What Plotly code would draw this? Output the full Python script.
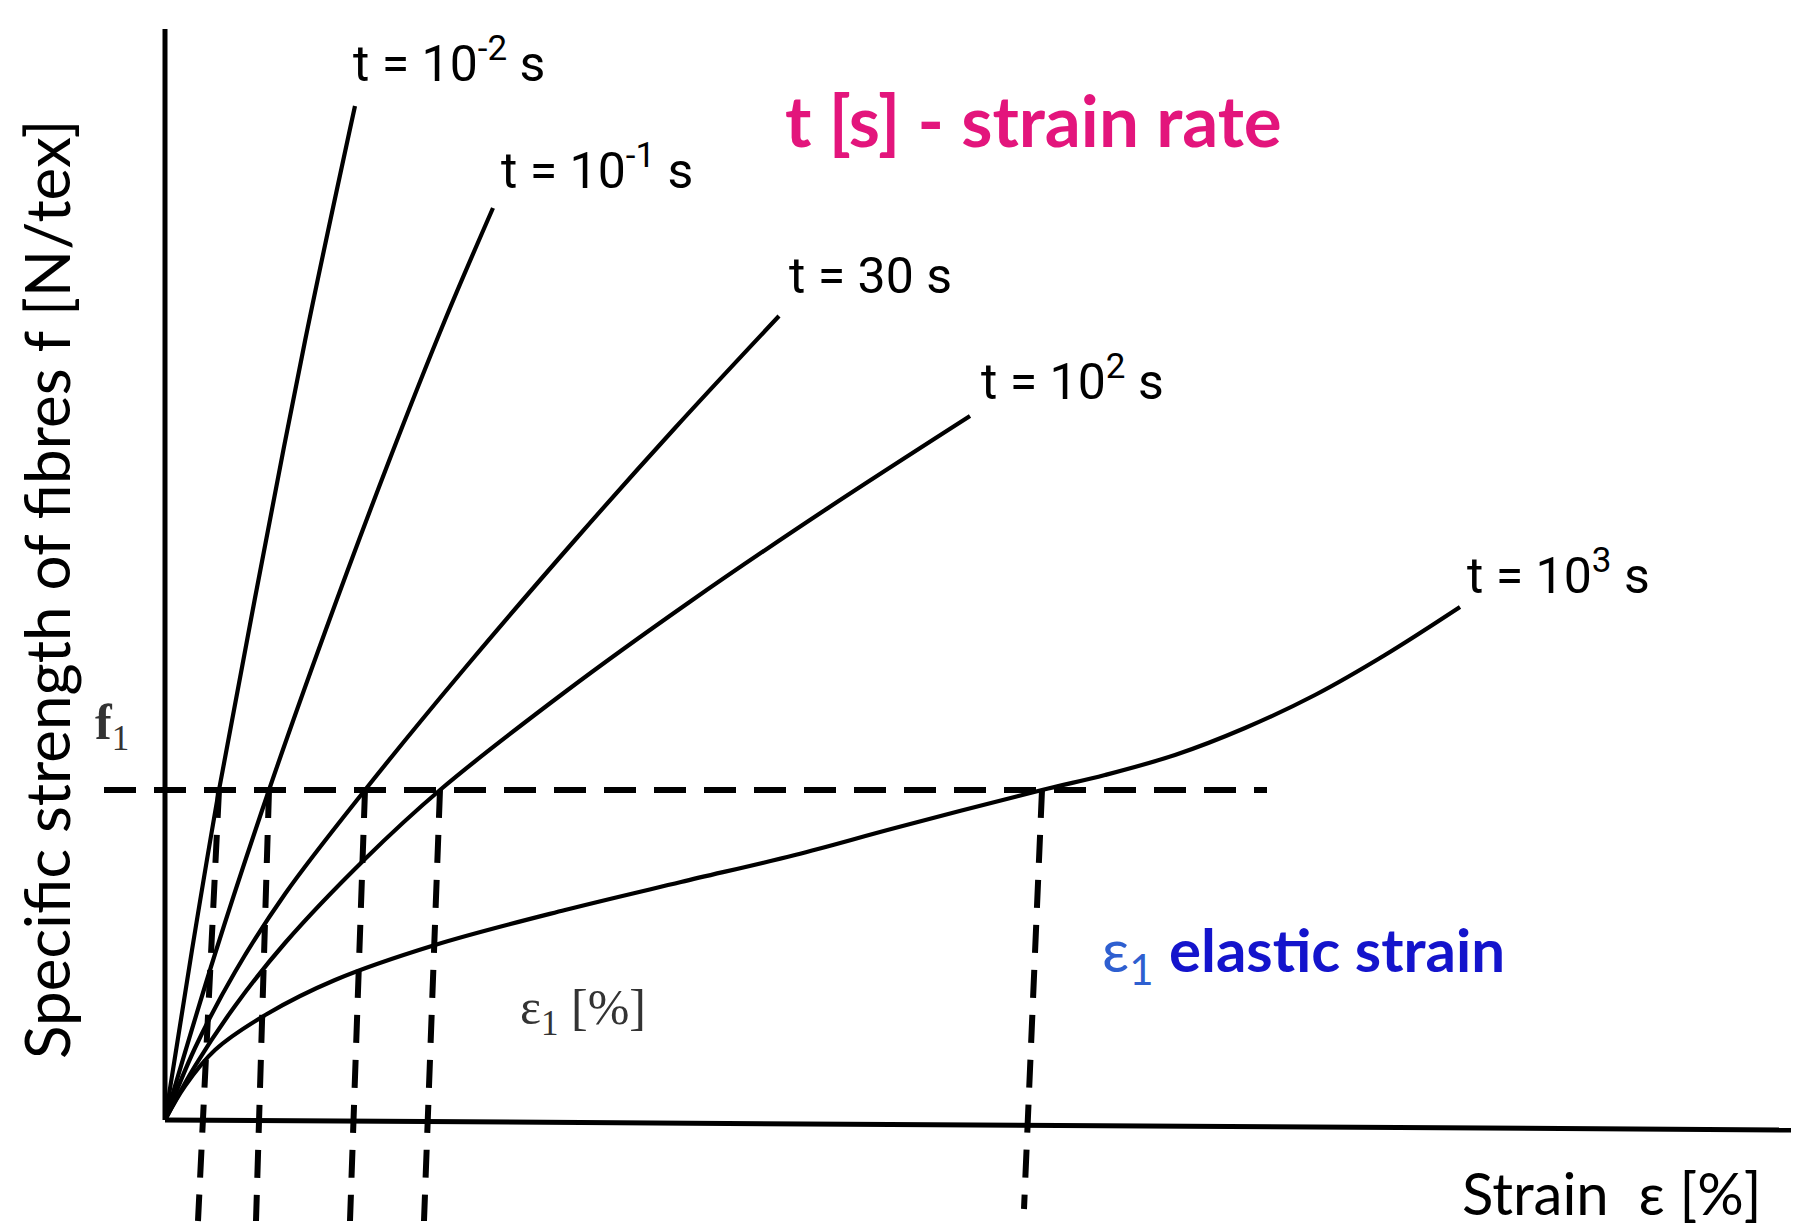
import plotly.graph_objects as go

# ---- data (strain in %, specific strength in arbitrary units) ----
curve_names = ["t = 10<sup>-2</sup> s", "t = 10<sup>-1</sup> s", "t = 30 s",
               "t = 10<sup>2</sup> s", "t = 10<sup>3</sup> s"]

strain_t1 = [0, 0.27, 0.54, 0.90, 1.40, 1.90]
force_t1 = [0, 1.70, 3.30, 5.22, 7.79, 10.14]

strain_t2 = [0, 0.50, 1.04, 1.60, 2.24, 2.80, 3.28]
force_t2 = [0, 1.66, 3.30, 4.88, 6.59, 8.00, 9.12]

strain_t3 = [0, 0.30, 0.70, 1.20, 2.00, 3.00, 4.10, 5.10, 6.14]
force_t3 = [0, 0.72, 1.48, 2.26, 3.30, 4.52, 5.80, 6.92, 8.04]

strain_t4 = [0, 0.30, 0.70, 1.20, 2.00, 2.75, 4.00, 5.26, 6.60, 8.05]
force_t4 = [0, 0.54, 1.14, 1.77, 2.61, 3.30, 4.28, 5.19, 6.10, 7.04]

strain_t5 = [0, 0.20, 0.50, 1.02, 1.70, 2.70, 4.00, 5.16, 6.30, 7.30, 8.77,
             9.40, 10.10, 10.80, 11.50, 12.20, 12.95]
force_t5 = [0, 0.34, 0.70, 1.06, 1.40, 1.75, 2.10, 2.38, 2.65, 2.92, 3.30,
            3.45, 3.65, 3.92, 4.25, 4.65, 5.13]

f1_level = 3.30
f1_line_x = [-0.61, 11.02]
eps1_top_x = [0.54, 1.04, 2.00, 2.75, 8.77]
eps1_bottom_x = [0.33, 0.91, 1.85, 2.59, 8.59]
eps1_bottom_y = [-1.01, -1.01, -1.01, -1.01, -0.89]

y_axis_x = [0, 0]
y_axis_y = [0, 10.91]
x_axis_x = [0, 16.26]
x_axis_y = [0, -0.10]

label_x = [1.86, 3.34, 6.22, 8.14, 13.0]
label_y = [10.60, 9.53, 8.44, 7.42, 5.48]

curves = [(strain_t1, force_t1), (strain_t2, force_t2), (strain_t3, force_t3),
          (strain_t4, force_t4), (strain_t5, force_t5)]

fig = go.Figure()

# axes lines
fig.add_trace(go.Scatter(x=y_axis_x, y=y_axis_y, mode="lines",
                         line=dict(color="black", width=5), hoverinfo="skip"))
fig.add_trace(go.Scatter(x=x_axis_x, y=x_axis_y, mode="lines",
                         line=dict(color="black", width=5), hoverinfo="skip"))

# f1 dashed line
fig.add_trace(go.Scatter(x=f1_line_x, y=[f1_level, f1_level], mode="lines",
                         line=dict(color="black", width=6, dash="32px,18px"),
                         hoverinfo="skip"))

# eps1 dashed verticals
for xt, xb, yb in zip(eps1_top_x, eps1_bottom_x, eps1_bottom_y):
    fig.add_trace(go.Scatter(x=[xt, xb], y=[f1_level, yb], mode="lines",
                             line=dict(color="black", width=6, dash="28px,17px"),
                             hoverinfo="skip"))

# curves
for (xs, ys), name in zip(curves, curve_names):
    fig.add_trace(go.Scatter(x=xs, y=ys, mode="lines", name=name,
                             line=dict(color="black", width=4.2, shape="spline",
                                       smoothing=1.0)))

ann = []
for name, lx, ly in zip(curve_names, label_x, label_y):
    ann.append(dict(x=lx, y=ly, xref="x", yref="y", text=name, showarrow=False,
                    xanchor="left", yanchor="middle",
                    font=dict(family="Roboto", size=50, color="black")))

ann.append(dict(x=6.18, y=10.01, xref="x", yref="y", text="<b>t [s] - strain rate</b>",
                showarrow=False, xanchor="left", yanchor="middle",
                font=dict(family="Lato", size=71, color="#E3157C")))
ann.append(dict(x=9.35, y=1.67, xref="x", yref="y",
                text="<span style='color:#2E5FD0'>ε<sub>1</sub></span> <b>elastic strain</b>",
                showarrow=False, xanchor="left", yanchor="middle",
                font=dict(family="Lato", size=60, color="#1414CC")))
ann.append(dict(x=3.53, y=1.09, xref="x", yref="y", text="ε<sub>1</sub> [%]",
                showarrow=False, xanchor="left", yanchor="middle",
                font=dict(family="Liberation Serif", size=50, color="#333333")))
ann.append(dict(x=-0.53, y=3.94, xref="x", yref="y", text="<b>f</b><sub>1</sub>",
                showarrow=False, xanchor="center", yanchor="middle",
                font=dict(family="Liberation Serif", size=50, color="#333333")))
ann.append(dict(x=12.95, y=-0.72, xref="x", yref="y", text="Strain  ε [%]",
                showarrow=False, xanchor="left", yanchor="middle",
                font=dict(family="Lato", size=58, color="black")))
ann.append(dict(x=-1.19, y=5.30, xref="x", yref="y",
                text="Specific strength of fibres f [N/tex]", textangle=-90,
                showarrow=False, xanchor="center", yanchor="middle",
                font=dict(family="Lato", size=62, color="black")))

fig.update_layout(
    width=1806, height=1229,
    margin=dict(l=0, r=0, t=0, b=0),
    paper_bgcolor="white", plot_bgcolor="white",
    showlegend=False,
    annotations=ann,
    xaxis=dict(range=[-1.65, 16.41], visible=False, fixedrange=True),
    yaxis=dict(range=[-1.09, 11.20], visible=False, fixedrange=True),
)

fig.write_html("out.html")
